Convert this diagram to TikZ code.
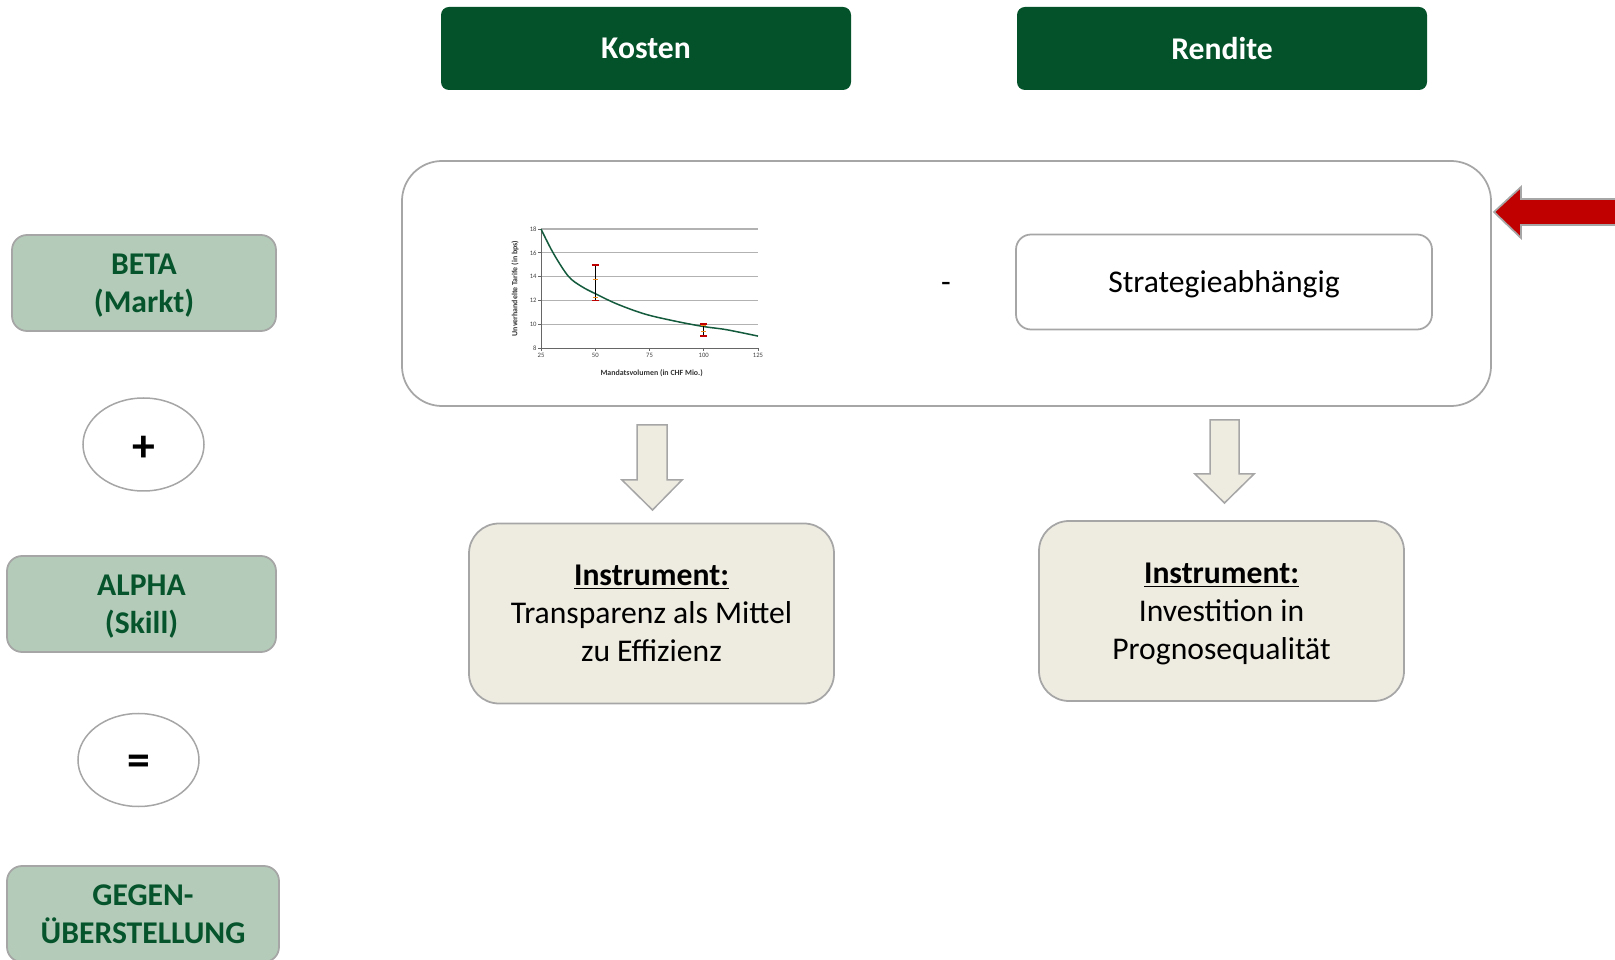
\documentclass[tikz,border=0pt]{standalone}
\usepackage{fontspec}
\setmainfont{Carlito}
\usetikzlibrary{positioning, shapes.geometric}
\definecolor{headgreen}{RGB}{4,82,41}
\definecolor{paleGreen}{RGB}{180,203,185}
\definecolor{labelgreen}{RGB}{6,84,44}
\definecolor{tanfill}{RGB}{238,236,225}
\definecolor{edgegray}{RGB}{166,166,166}
\definecolor{arrowred}{RGB}{192,0,0}
\definecolor{curvegreen}{RGB}{20,90,60}
\definecolor{barorange}{RGB}{240,140,30}

\begin{document}
\begin{tikzpicture}[x=0.2mm, y=-0.2mm,
			header/.style={rectangle, fill=headgreen, rounded corners=1.6mm,
				minimum width=82mm, minimum height=16.6mm, text=white, text depth=0pt,
				font=\fontsize{18}{22}\selectfont\bfseries},
			factor/.style={rectangle, draw=edgegray, fill=paleGreen, line width=0.35mm,
				rounded corners=3mm, minimum height=19.2mm, align=center, text=labelgreen,
				text depth=0pt, font=\fontsize{18}{21.5}\selectfont\bfseries},
			operator/.style={ellipse, draw=edgegray, fill=white, line width=0.3mm,
				minimum width=24.2mm, minimum height=18.6mm, inner sep=0pt, text depth=0pt,
				font=\fontsize{26}{26}\selectfont\bfseries},
			instrument/.style={rectangle, draw=edgegray, fill=tanfill, line width=0.35mm,
				rounded corners=6mm, minimum width=73mm, minimum height=36mm, align=center,
				text depth=0pt, font=\fontsize{18}{21.6}\selectfont},
			blockarrow/.style={draw=edgegray, fill=tanfill, line width=0.3mm},
			ticklabel/.style={font=\fontsize{3.8}{4}\selectfont, text=black!75, inner sep=0.3mm},
			axistitle/.style={font=\fontsize{4.5}{5}\selectfont\bfseries, text=black!80, inner sep=0pt}
			]
			\useasboundingbox (0,0) rectangle (1615,960);
			
			% column heads
			\node[header] (kosten) at (646,48.5) {Kosten};
			\node[header] (rendite) at (1222,48.5) {Rendite};
			
			% left column
			\node[factor, minimum width=52.8mm] (beta) at (144,283) {BETA\\(Markt)};
			\node[operator] (plus) at (143.5,444.5) {\raisebox{-4.5pt}{+}};
			\node[factor, minimum width=53.8mm] (alpha) at (141.5,604) {ALPHA\\(Skill)};
			\node[operator] (equals) at (138.5,760) {\raisebox{-5.5pt}{=}};
			\node[factor, minimum width=54.4mm] (gegen) at (143,914) {GEGEN-\\ÜBERSTELLUNG};
			
			% beta row
			\node[rectangle, draw=edgegray, line width=0.35mm, rounded corners=8mm,
				minimum width=217.8mm, minimum height=49mm] (betarow) at (946.5,283.5) {};
			\node[font=\fontsize{18}{22}\selectfont] (minus) at (946,287) {-};
			\node[rectangle, draw=edgegray, fill=white, line width=0.35mm, rounded corners=3mm,
				minimum width=83.2mm, minimum height=19mm, text depth=0pt,
				font=\fontsize{18}{22}\selectfont]
				(strategie) at (1224,282) {Strategieabhängig};
			
			% cost curve
			\begin{scope}[shift={(541,348)}, x=0.434mm, y=2.38mm]
				\foreach \t in {2,4,...,10}
					\draw[black!30, line width=0.25mm] (0,\t) -- (100,\t);
				\draw[black!60, line width=0.15mm] (0,0) -- (0,10);
				\draw[black!60, line width=0.15mm] (0,0) -- (100,0);
				\foreach \v in {0,25,...,100}
					\draw[black!60, line width=0.15mm] (\v,0) -- (\v,-0.25);
				\foreach \t in {0,2,...,10}
					\draw[black!60, line width=0.15mm] (0,\t) -- (-1.2,\t);
				\foreach \t [evaluate=\t as \lab using int(\t+8)] in {0,2,...,10}
					\node[ticklabel, left] at (-1.2,\t) {\lab};
				\foreach \v [evaluate=\v as \lab using int(\v+25)] in {0,25,...,100}
					\node[ticklabel, below] at (\v,-0.3) {\lab};
				\node[axistitle] (xtitle) at (51,-2.15) {Mandatsvolumen (in CHF Mio.)};
				\node[axistitle, rotate=90] (ytitle) at (-12,5.0) {Unverhandelte Tarife (in bps)};
				\draw[curvegreen, line width=0.3mm] plot[smooth, tension=0.55] coordinates
					{(0,10) (5.7,7.96) (12.6,6.03) (18.7,5.17) (25.2,4.55) (35,3.7)
					 (47.9,2.85) (62,2.25) (75,1.8) (85.4,1.54) (100,1.0)};
				% error bars
				\draw[black, line width=0.2mm] (25,4) -- (25,7);
				\draw[black, line width=0.2mm] (75,1) -- (75,2);
				\foreach \x/\t in {25/7, 25/4, 75/2, 75/1}
					\draw[arrowred, line width=0.35mm] (\x-1.6,\t) -- (\x+1.6,\t);
				\foreach \x/\t in {25/5.75, 25/4.25, 75/1.9, 75/1.4}
					\draw[barorange, line width=0.3mm] (\x-1.2,\t) -- (\x+1.2,\t);
			\end{scope}
			
			% instruments
			\node[instrument] (transparenz) at (651.5,613.5)
				{\underline{\textbf{Instrument:}}\\Transparenz als Mittel\\zu Effizienz};
			\node[instrument] (prognose) at (1221.5,611)
				{\underline{\textbf{Instrument:}}\\Investition in\\Prognosequalität};
			
			% block arrows
			\draw[blockarrow] (637,425) -- (667,425) -- (667,480) -- (682,480) -- (652.5,510)
				-- (622,480) -- (637,480) -- cycle;
			\draw[blockarrow] (1210,420) -- (1239,420) -- (1239,474) -- (1254,474) -- (1224.5,503)
				-- (1195,474) -- (1210,474) -- cycle;
			
			% pointer
			\draw[draw=edgegray, fill=arrowred, line width=0.35mm] (1494,212) -- (1521,187)
				-- (1521,199) -- (1625,199) -- (1625,225) -- (1521,225) -- (1521,238) -- cycle;
		\end{tikzpicture}
\end{document}
